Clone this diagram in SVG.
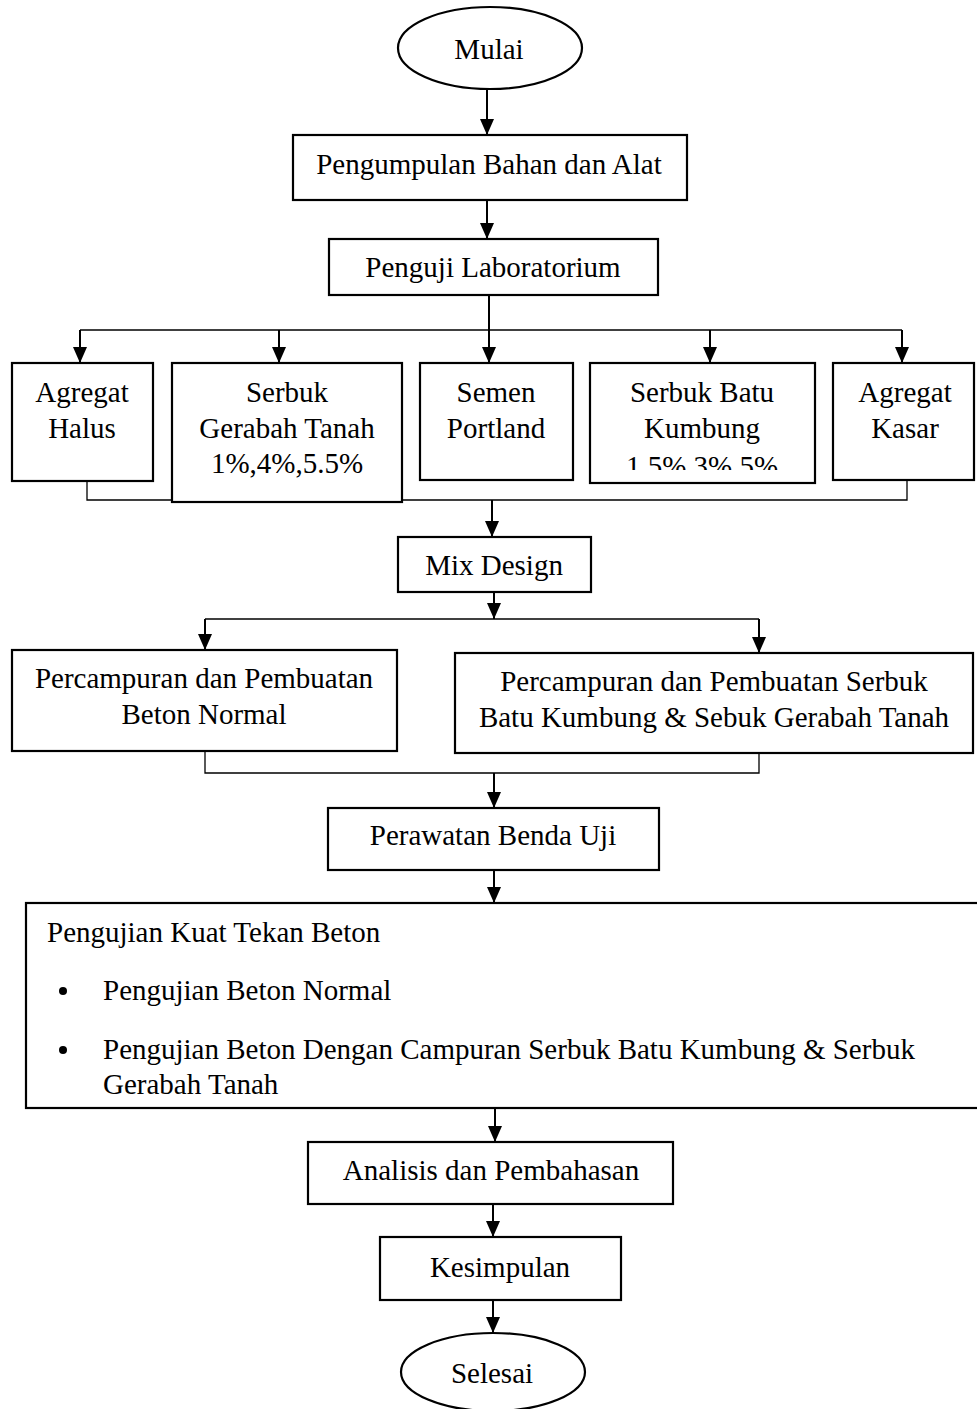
<svg xmlns="http://www.w3.org/2000/svg" width="977" height="1409" viewBox="0 0 977 1409">
<style>
.box{fill:#fff;stroke:#000;stroke-width:2.2}
.t{font-family:"Liberation Serif","Times New Roman",serif;font-size:29px;fill:#000;text-anchor:middle}
.tl{font-family:"Liberation Serif","Times New Roman",serif;font-size:29px;fill:#000}
.arr{fill:none;stroke:#000;stroke-width:2;marker-end:url(#ah)}
.ln{fill:none;stroke:#000;stroke-width:1.3}
.ln2{fill:none;stroke:#000;stroke-width:2}
</style>
<defs>
<marker id="ah" markerUnits="userSpaceOnUse" markerWidth="16" markerHeight="14" viewBox="0 0 16 14" refX="16" refY="7" orient="auto">
<path d="M0,0 L16,7 L0,14 z" fill="#000"/>
</marker>
<clipPath id="clipKumbung"><rect x="590" y="363" width="225" height="107"/></clipPath>
</defs>
<rect width="977" height="1409" fill="#fff"/>

<g id="connectors">
<path class="arr" d="M487,90 V135"/>
<path class="arr" d="M487,200 V239"/>
<path class="ln2" d="M489,295 V330"/>
<path class="ln" d="M80,330 H902"/>
<path class="arr" d="M80,330 V363"/>
<path class="arr" d="M279,330 V363"/>
<path class="arr" d="M489,330 V363"/>
<path class="arr" d="M710,330 V363"/>
<path class="arr" d="M902,330 V363"/>
<path class="ln" d="M87,481 V500 H907 V480"/>
<path class="arr" d="M492,500 V537"/>
<path class="arr" d="M494,592 V619"/>
<path class="ln" d="M205,619 H759"/>
<path class="arr" d="M205,619 V650"/>
<path class="arr" d="M759,619 V653"/>
<path class="ln" d="M205,751 V773 H759 V753"/>
<path class="arr" d="M494,773 V808"/>
<path class="arr" d="M494,870 V903"/>
<path class="arr" d="M495,1108 V1142"/>
<path class="arr" d="M493,1204 V1237"/>
<path class="arr" d="M493,1300 V1333"/>
</g>

<g id="mulai">
<ellipse class="box" cx="490" cy="48" rx="92" ry="41"/>
<text class="t" x="489" y="59">Mulai</text>
</g>
<g id="pengumpulan">
<rect class="box" x="293" y="135" width="394" height="65"/>
<text class="t" x="489" y="174">Pengumpulan Bahan dan Alat</text>
</g>
<g id="penguji">
<rect class="box" x="329" y="239" width="329" height="56"/>
<text class="t" x="493" y="277">Penguji Laboratorium</text>
</g>
<g id="agregat-halus">
<rect class="box" x="12" y="363" width="141" height="118"/>
<text class="t" x="82" y="402">Agregat</text>
<text class="t" x="82" y="438">Halus</text>
</g>
<g id="serbuk-gerabah">
<rect class="box" x="172" y="363" width="230" height="139"/>
<text class="t" x="287" y="402">Serbuk</text>
<text class="t" x="287" y="438">Gerabah Tanah</text>
<text class="t" x="287" y="473">1%,4%,5.5%</text>
</g>
<g id="semen">
<rect class="box" x="420" y="363" width="153" height="117"/>
<text class="t" x="496" y="402">Semen</text>
<text class="t" x="496" y="438">Portland</text>
</g>
<g id="serbuk-batu">
<rect class="box" x="590" y="363" width="225" height="120"/>
<text class="t" x="702" y="402">Serbuk Batu</text>
<text class="t" x="702" y="438">Kumbung</text>
<text class="t" x="702" y="476" clip-path="url(#clipKumbung)">1.5%,3%,5%</text>
</g>
<g id="agregat-kasar">
<rect class="box" x="833" y="363" width="141" height="117"/>
<text class="t" x="905" y="402">Agregat</text>
<text class="t" x="905" y="438">Kasar</text>
</g>
<g id="mix-design">
<rect class="box" x="398" y="537" width="193" height="55"/>
<text class="t" x="494" y="575">Mix Design</text>
</g>
<g id="beton-normal">
<rect class="box" x="12" y="650" width="385" height="101"/>
<text class="t" x="204" y="688">Percampuran dan Pembuatan</text>
<text class="t" x="204" y="724">Beton Normal</text>
</g>
<g id="beton-campuran">
<rect class="box" x="455" y="653" width="518" height="100"/>
<text class="t" x="714" y="691">Percampuran dan Pembuatan Serbuk</text>
<text class="t" x="714" y="727">Batu Kumbung &amp; Sebuk Gerabah Tanah</text>
</g>
<g id="perawatan">
<rect class="box" x="328" y="808" width="331" height="62"/>
<text class="t" x="493" y="845">Perawatan Benda Uji</text>
</g>
<g id="pengujian">
<rect class="box" x="26" y="903" width="966" height="205"/>
<text class="tl" x="47" y="942">Pengujian Kuat Tekan Beton</text>
<circle cx="63" cy="991" r="4"/>
<text class="tl" x="103" y="1000">Pengujian Beton Normal</text>
<circle cx="63" cy="1050" r="4"/>
<text class="tl" x="103" y="1059">Pengujian Beton Dengan Campuran Serbuk Batu Kumbung &amp; Serbuk</text>
<text class="tl" x="103" y="1094">Gerabah Tanah</text>
</g>
<g id="analisis">
<rect class="box" x="308" y="1142" width="365" height="62"/>
<text class="t" x="491" y="1180">Analisis dan Pembahasan</text>
</g>
<g id="kesimpulan">
<rect class="box" x="380" y="1237" width="241" height="63"/>
<text class="t" x="500" y="1277">Kesimpulan</text>
</g>
<g id="selesai">
<ellipse class="box" cx="493" cy="1372" rx="92" ry="39"/>
<text class="t" x="492" y="1383">Selesai</text>
</g>
</svg>
